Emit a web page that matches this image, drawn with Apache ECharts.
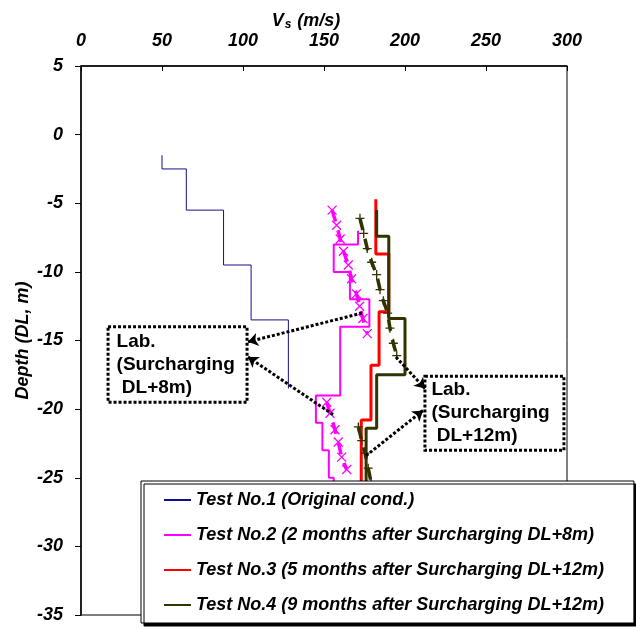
<!DOCTYPE html>
<html>
<head>
<meta charset="utf-8">
<script src="https://cdn.jsdelivr.net/npm/echarts@6/dist/echarts.min.js"></script>
<style>
  html, body { margin: 0; padding: 0; background: #fff; }
  #chart { width: 636px; height: 627px; }
</style>
</head>
<body>
<div id="chart"></div>
<script>
// Shear-wave velocity (Vs) profiles: each test is a set of layers,
// layer i has velocity testNVs[i] between depths testNDepths[i] and testNDepths[i+1].
const xTicks = [0, 50, 100, 150, 200, 250, 300];
const yTicks = [5, 0, -5, -10, -15, -20, -25, -30, -35];

const seriesNames = [
  'Test No.1 (Original cond.)',
  'Test No.2 (2 months after Surcharging DL+8m)',
  'Test No.3 (5 months after Surcharging DL+12m)',
  'Test No.4 (9 months after Surcharging DL+12m)'
];

const test1Depths = [-1.5, -2.5, -5.5, -9.5, -13.5, -18.5];
const test1Vs     = [50, 65, 88, 105, 128];

const test2Depths = [-7, -8, -10, -12, -14, -19, -21, -23, -25, -26.5];
const test2Vs     = [171, 156, 166, 178, 160, 145, 149, 153, 156];

const test3Depths = [-4.7, -8.7, -12.9, -16.8, -20.8, -26.5];
const test3Vs     = [182, 190, 184, 179, 173];

const test4Depths = [-5.5, -7.4, -13.4, -17.5, -21.4, -26.5];
const test4Vs     = [182.5, 190, 200, 182.5, 176];

// Laboratory estimates
const lab8UpperVs    = [155, 157.8, 160, 162, 165, 167, 170, 172, 174, 176.7];
const lab8UpperDepth = [-5.5, -6.6, -7.6, -8.5, -9.5, -10.5, -11.6, -12.5, -13.4, -14.5];
const lab8LowerVs    = [151.7, 153.7, 156.8, 158.8, 160.9, 164];
const lab8LowerDepth = [-19.5, -20.3, -21.5, -22.4, -23.5, -24.4];

const lab12UpperVs    = [172.2, 174.5, 176.7, 179.4, 182.5, 184.6, 186.6, 189.3, 190.7, 192.8, 194.9];
const lab12UpperDepth = [-6.1, -7.2, -8.3, -9.3, -10.2, -11.3, -12.1, -13.0, -14.1, -15.2, -16.1];
const lab12LowerVs    = [171.2, 173.3, 175.3, 177.3, 179];
const lab12LowerDepth = [-21.3, -22.3, -23.2, -24.3, -25.3];

// Annotation boxes [vsLeft, depthTop, vsRight, depthBottom] and their arrows [from, to]
const boxLab8  = [16.7, -14.0, 102.5, -19.5];
const boxLab12 = [212.3, -17.6, 298.1, -23.0];
const arrows = [
  [[173.5, -13.0], [103.1, -15.1]],
  [[155.6, -20.4], [103.1, -16.2]],
  [[194.4, -16.2], [212.3, -18.5]],
  [[175.9, -23.4], [211.1, -20.1]]
];

const FONT = '"Liberation Sans", Arial, Helvetica, sans-serif';
const AXIS_FONT = 18;

function stepProfile(depths, vs) {
  const pts = [];
  for (let i = 0; i < vs.length; i++) {
    pts.push([vs[i], depths[i]]);
    pts.push([vs[i], depths[i + 1]]);
  }
  return pts;
}
function zipPoints(vs, depths) {
  return vs.map((v, i) => [v, depths[i]]);
}

const crossPath = 'path://M0,0L10,10M10,0L0,10';
const plusPath = 'path://M5,0L5,10M0,5L10,5';

function labSeries(name, pts, color, symbol) {
  return {
    name: name,
    type: 'line',
    data: pts,
    symbol: symbol,
    symbolSize: 9,
    showSymbol: true,
    itemStyle: { color: 'rgba(0,0,0,0)', borderColor: color, borderWidth: 1.3 },
    lineStyle: { color: color, width: 3.5, type: [12, 9] },
    silent: true,
    z: 3
  };
}

function stepSeries(name, pts, color, width) {
  return {
    name: name,
    type: 'line',
    data: pts,
    showSymbol: false,
    symbol: 'none',
    lineStyle: { color: color, width: width },
    itemStyle: { color: color },
    silent: true,
    z: 2
  };
}

const boxLabel = (text, dist) => ({
  show: true,
  position: 'insideLeft',
  distance: dist,
  formatter: text,
  color: '#000',
  fontFamily: FONT,
  fontWeight: 'bold',
  fontSize: 19,
  lineHeight: 23
});

const chart = echarts.init(document.getElementById('chart'), null, { renderer: 'canvas' });

chart.setOption({
  animation: false,
  backgroundColor: '#fff',
  grid: {
    left: 81, right: 69, top: 66, bottom: 12,
    show: true, borderColor: '#000', borderWidth: 1,
    containLabel: false
  },
  xAxis: {
    type: 'value',
    position: 'top',
    min: xTicks[0], max: xTicks[xTicks.length - 1], interval: 50,
    name: '{v|V}{s|s}{u| (m/s)}',
    nameLocation: 'middle',
    nameGap: 35,
    nameMoveOverlap: false,
    nameTextStyle: {
      padding: [0, 36, 0, 0],
      rich: {
        v: { fontFamily: FONT, fontSize: AXIS_FONT, fontWeight: 'bold', fontStyle: 'italic', color: '#000' },
        s: { fontFamily: FONT, fontSize: 12, fontWeight: 'bold', fontStyle: 'italic', color: '#000', padding: [8, 1, 0, 1] },
        u: { fontFamily: FONT, fontSize: AXIS_FONT, fontWeight: 'bold', fontStyle: 'italic', color: '#000' }
      }
    },
    axisLine: { show: true, onZero: false, lineStyle: { color: '#000', width: 1.5 } },
    axisTick: { show: true, inside: true, length: 5, lineStyle: { color: '#000' } },
    splitLine: { show: false },
    axisLabel: {
      margin: 16,
      fontFamily: FONT, fontSize: AXIS_FONT, fontWeight: 'bold', fontStyle: 'italic', color: '#000'
    }
  },
  yAxis: {
    type: 'value',
    min: yTicks[yTicks.length - 1], max: yTicks[0], interval: 5,
    name: 'Depth (DL, m)',
    nameLocation: 'middle',
    nameGap: 49,
    nameMoveOverlap: false,
    nameRotate: 90,
    nameTextStyle: { fontFamily: FONT, fontSize: AXIS_FONT, fontWeight: 'bold', fontStyle: 'italic', color: '#000' },
    axisLine: { show: true, onZero: false, lineStyle: { color: '#000', width: 1.5 } },
    axisTick: { show: true, inside: false, length: 6, lineStyle: { color: '#000' } },
    splitLine: { show: false },
    axisLabel: {
      margin: 18,
      fontFamily: FONT, fontSize: AXIS_FONT, fontWeight: 'bold', fontStyle: 'italic', color: '#000'
    }
  },
  legend: {
    data: seriesNames,
    orient: 'vertical',
    left: 141, top: 481,
    padding: [9, 30, 8, 22],
    itemWidth: 27, itemHeight: 14, itemGap: 15,
    selectedMode: false,
    backgroundColor: '#fff',
    borderColor: '#000', borderWidth: 1,
    shadowColor: '#000', shadowBlur: 0, shadowOffsetX: 3, shadowOffsetY: 3,
    itemStyle: { opacity: 0, borderWidth: 0 },
    textStyle: { fontFamily: FONT, fontSize: 18, fontWeight: 'bold', fontStyle: 'italic', color: '#000', lineHeight: 20 },
    z: 10
  },
  series: [
    stepSeries(seriesNames[0], stepProfile(test1Depths, test1Vs), '#10108a', 1),
    stepSeries(seriesNames[1], stepProfile(test2Depths, test2Vs), '#ff00ff', 2),
    stepSeries(seriesNames[2], stepProfile(test3Depths, test3Vs), '#ff0000', 3),
    stepSeries(seriesNames[3], stepProfile(test4Depths, test4Vs), '#333300', 3),
    labSeries('Lab DL+8m upper', zipPoints(lab8UpperVs, lab8UpperDepth), '#ff00ff', crossPath),
    labSeries('Lab DL+8m lower', zipPoints(lab8LowerVs, lab8LowerDepth), '#ff00ff', crossPath),
    labSeries('Lab DL+12m upper', zipPoints(lab12UpperVs, lab12UpperDepth), '#333300', plusPath),
    labSeries('Lab DL+12m lower', zipPoints(lab12LowerVs, lab12LowerDepth), '#333300', plusPath),
    {
      name: 'annotations',
      type: 'line',
      data: [],
      silent: true,
      z: 4,
      markArea: {
        silent: true,
        itemStyle: { color: '#fff', borderColor: '#000', borderWidth: 3, borderType: [3, 2] },
        data: [
          [{ coord: [boxLab8[0], boxLab8[1]], label: boxLabel('Lab.\n(Surcharging\n DL+8m)', 10) },
           { coord: [boxLab8[2], boxLab8[3]] }],
          [{ coord: [boxLab12[0], boxLab12[1]], label: boxLabel('Lab.\n(Surcharging\n DL+12m)', 8) },
           { coord: [boxLab12[2], boxLab12[3]] }]
        ]
      },
      markLine: {
        silent: true,
        symbol: ['none', 'arrow'],
        symbolSize: 10,
        label: { show: false },
        lineStyle: { color: '#000', width: 3, type: [3, 2] },
        data: arrows.map(a => [{ coord: a[0] }, { coord: a[1] }])
      }
    }
  ]
});
</script>
</body>
</html>
